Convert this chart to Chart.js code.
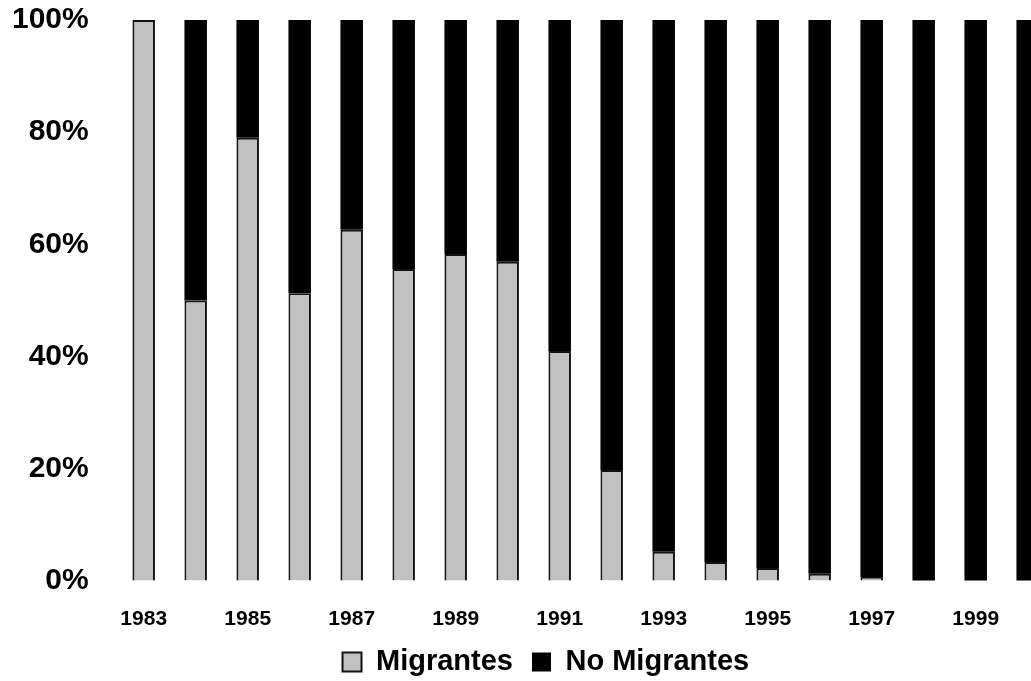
<!DOCTYPE html>
<html>
<head>
<meta charset="utf-8">
<script src="https://cdn.jsdelivr.net/npm/chart.js@4/dist/chart.umd.min.js"></script>
<style>
  html, body { margin: 0; padding: 0; background: #fff; overflow: hidden; }
  #wrap { width: 1080px; height: 681px; }
</style>
</head>
<body>
<div id="wrap"><canvas id="c" width="1080" height="681"></canvas></div>
<script>
// Years on the horizontal axis
const years = ['1983','1984','1985','1986','1987','1988','1989','1990','1991',
               '1992','1993','1994','1995','1996','1997','1998','1999','2000'];

// Share of migrants per year (%)
const migrantes = [100, 50, 79, 51.3, 62.6, 55.6, 58.3, 56.9, 41,
                   19.8, 5.2, 3.4, 2.3, 1.3, 0.7, 0, 0, 0];

// Share of non-migrants per year (%)
const noMigrantes = [0, 50, 21, 48.7, 37.4, 44.4, 41.7, 43.1, 59,
                     80.2, 94.8, 96.6, 97.7, 98.7, 99.3, 100, 100, 100];

const yTicks = [0, 20, 40, 60, 80, 100];

const FONT = '"Liberation Sans", Arial, sans-serif';

// Nudge the legend so it is centred under the plot rather than the whole canvas
const legendOffset = {
  id: 'legendOffset',
  afterLayout(chart) {
    if (chart.legend) { chart.legend.left = 38; }
  }
};

new Chart(document.getElementById('c'), {
  type: 'bar',
  data: {
    labels: years,
    datasets: [
      {
        label: 'Migrantes',
        data: migrantes,
        backgroundColor: '#c0c0c0',
        borderColor: '#111',
        borderWidth: 2,
        borderSkipped: 'start'
      },
      {
        label: 'No Migrantes',
        data: noMigrantes,
        backgroundColor: '#000',
        borderColor: '#000',
        borderWidth: 0
      }
    ]
  },
  plugins: [legendOffset],
  options: {
    responsive: false,
    devicePixelRatio: 1,
    animation: false,
    layout: { padding: { left: 0, right: 26.3, top: 20, bottom: -5.5 } },
    datasets: { bar: { barPercentage: 0.433, categoryPercentage: 1 } },
    plugins: {
      tooltip: { enabled: false },
      legend: {
        position: 'bottom',
        labels: {
          color: '#000',
          font: { family: FONT, size: 29, weight: 'bold' },
          boxWidth: 19,
          boxHeight: 19,
          padding: 19
        }
      }
    },
    scales: {
      x: {
        stacked: true,
        grid: { display: false, drawTicks: false },
        border: { display: false },
        ticks: {
          autoSkip: false,
          maxRotation: 0,
          padding: 26,
          color: '#000',
          font: { family: FONT, size: 21, weight: 'bold' },
          callback: function (v, i) { return i % 2 === 0 ? years[i] : ''; }
        },
        afterFit: function (s) { s.height = 47.5; }
      },
      y: {
        stacked: true,
        min: 0,
        max: 100,
        afterBuildTicks: function (s) { s.ticks = yTicks.map(v => ({ value: v })); },
        grid: {
          display: true,
          drawOnChartArea: false,
          drawTicks: true,
          tickLength: 29,
          color: 'rgba(0,0,0,0)'
        },
        border: { display: false },
        ticks: {
          padding: 0,
          color: '#000',
          font: { family: FONT, size: 30, weight: 'bold' },
          callback: function (v) { return v + '%'; }
        },
        afterFit: function (s) { s.width = 117.7; }
      }
    }
  }
});
</script>
</body>
</html>
